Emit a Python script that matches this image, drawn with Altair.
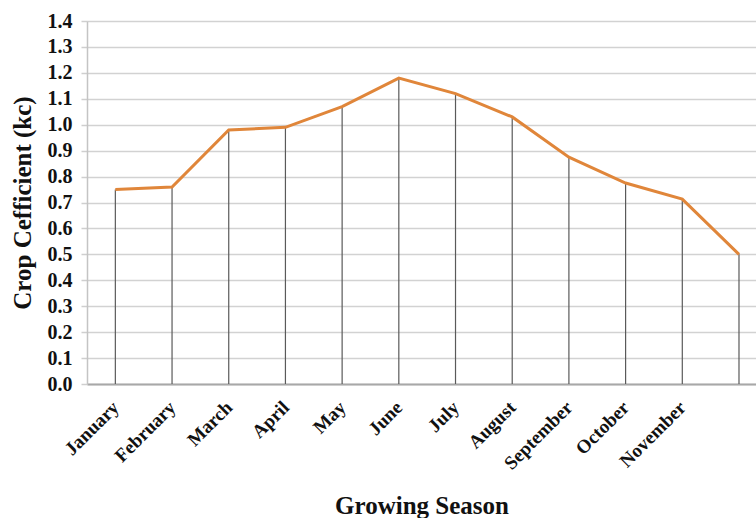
import altair as alt
import pandas as pd

# Monthly crop coefficient (kc) over the growing season
months = ["January", "February", "March", "April", "May", "June",
          "July", "August", "September", "October", "November", "December"]
kc = [0.75, 0.76, 0.98, 0.99, 1.07, 1.18, 1.12, 1.03, 0.875, 0.775, 0.713, 0.50]
labelled_months = 11  # December carries no axis label
y_ticks = [round(i * 0.1, 1) for i in range(15)]

df = pd.DataFrame({"idx": list(range(len(months))), "month": months, "kc": kc})
df["base"] = 0.0

FONT = "Liberation Serif"
names_js = "[" + ",".join("'%s'" % m for m in months) + "]"

x_enc = alt.X(
    "idx:Q",
    scale=alt.Scale(domain=[-0.5, 11.3], nice=False, zero=False),
    axis=alt.Axis(
        values=list(range(labelled_months)),
        labelExpr=names_js + "[datum.value]",
        labelAngle=-45,
        labelAlign="right",
        labelBaseline="middle",
        labelFont=FONT,
        labelFontWeight="bold",
        labelFontSize=19,
        labelColor="#111111",
        labelPadding=20,
        labelOverlap=False,
        labelBound=False,
        ticks=False,
        grid=False,
        domainColor="#a8a8a8",
        domainWidth=2,
        title="Growing Season",
        titleFont=FONT,
        titleFontWeight="bold",
        titleFontSize=25,
        titleColor="#111111",
        titlePadding=20,
    ),
)

y_enc = alt.Y(
    "kc:Q",
    scale=alt.Scale(domain=[0, 1.4], nice=False),
    axis=alt.Axis(
        values=y_ticks,
        format=".1f",
        labelFont=FONT,
        labelFontWeight="bold",
        labelFontSize=20,
        labelColor="#111111",
        labelPadding=9,
        labelOverlap=False,
        tickSize=6,
        tickColor="#cfcfcf",
        tickWidth=1.5,
        grid=True,
        gridColor="#d2d2d2",
        gridWidth=1.5,
        domainColor="#c4c4c4",
        domainWidth=1.5,
        title="Crop Cefficient (kc)",
        titleFont=FONT,
        titleFontWeight="bold",
        titleFontSize=25,
        titleColor="#111111",
        titlePadding=12,
    ),
)

base = alt.Chart(df)

# drop lines from each monthly value down to zero
drops = base.mark_rule(color="#5a5a5a", strokeWidth=1.2).encode(
    x=x_enc, y=y_enc, y2="base:Q"
)

line = base.mark_line(color="#E0863A", strokeWidth=3).encode(x=x_enc, y=y_enc)

chart = (
    alt.layer(drops, line)
    .properties(
        width=669,
        height=363,
        autosize=alt.AutoSizeParams(type="none"),
        padding={"left": 87, "top": 21, "right": 0, "bottom": 134},
        background="white",
    )
    .configure_view(stroke=None)
)

chart.save("out.html", embed_options={"renderer": "svg", "actions": False})
